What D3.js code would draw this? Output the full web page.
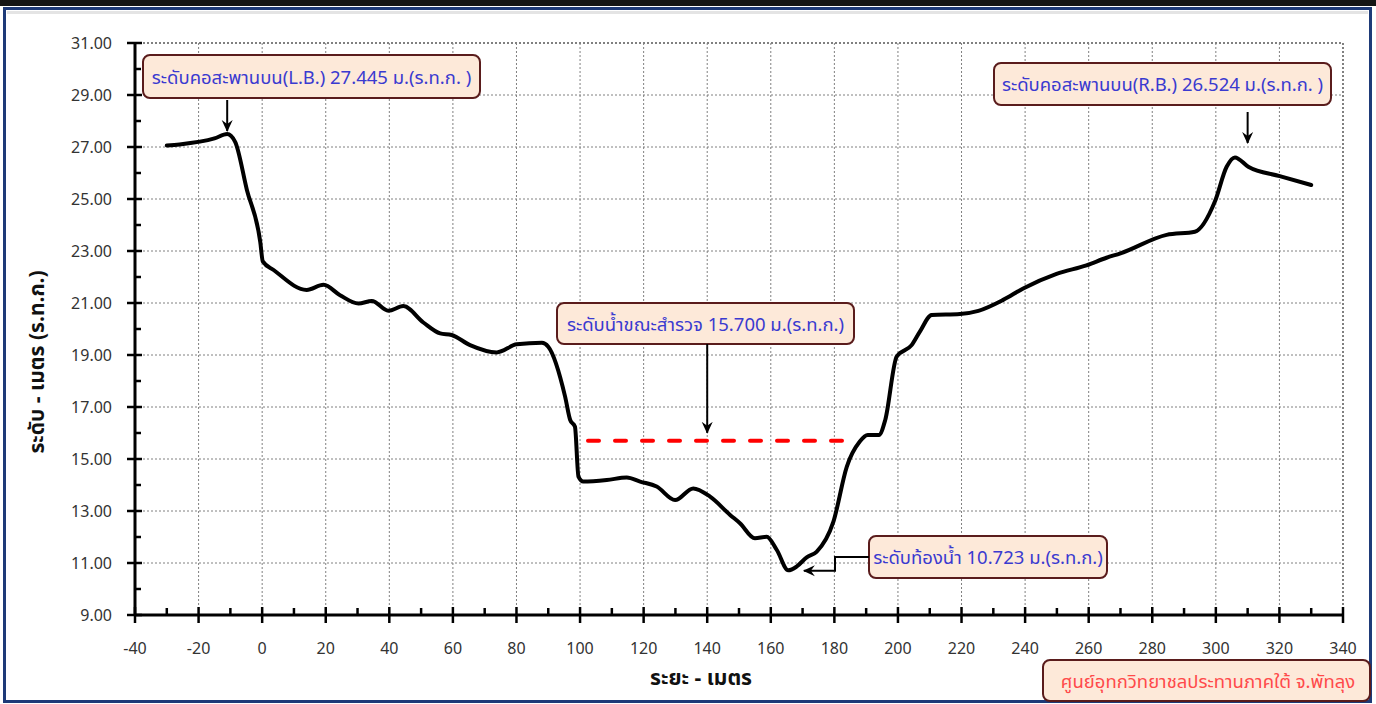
<!DOCTYPE html>
<html>
<head>
<meta charset="utf-8">
<script src="https://cdn.jsdelivr.net/npm/d3@7"></script>
<style>
    body { margin: 0; background: #fff; }
    svg { display: block; }
    .tick-label { font-family: Tahoma, 'Noto Sans', sans-serif; font-size: 16px; fill: #333; }
    .axis-title { font-family: Tahoma, 'Noto Sans Thai', 'Noto Sans', sans-serif; font-size: 21px; font-weight: bold; fill: #111; }
    .note { font-family: Tahoma, 'Noto Sans Thai', 'Noto Sans', sans-serif; font-size: 18.5px; }
</style>
</head>
<body>
<svg id="chart" width="1376" height="704"></svg>
<script>
    'use strict';

    // cross-section survey: distance (m) vs. ground level (m, MSL)
    var distance = [-30, -26, -15, -11, -8.5, -4.8, -0.6, 0.2, 3.6, 14, 19.3, 24.5,
        30.3, 34.5, 39.7, 44.4, 50.7, 56, 59.6, 65.4, 73.8, 80.1, 88, 90,
        95.3, 96.9, 98.4, 99.5, 101, 108.4, 114.7, 118.9, 124.1, 129.9, 135.6, 140.9,
        147.2, 150.3, 155, 158.7, 161.9, 165.5, 168.1, 171.3, 174.4, 179.7, 183.9, 188,
        190.5, 194, 196, 199.6, 204.3, 206.9, 210.6, 219.5, 225.3, 233.1, 239.4, 249.9,
        259.3, 265.6, 270, 284.5, 293.4, 299.7, 303.4, 306, 310.2, 320.1, 330];
    var elevation = [27.06, 27.1, 27.33, 27.5, 27.2, 25.35, 23.35, 22.6, 22.27, 21.5, 21.7, 21.3,
        20.98, 21.08, 20.7, 20.88, 20.25, 19.83, 19.77, 19.38, 19.1, 19.41, 19.47, 19.32,
        17.4, 16.5, 16.24, 14.32, 14.13, 14.19, 14.29, 14.13, 13.94, 13.42, 13.87, 13.55,
        12.85, 12.53, 11.95, 12.01, 11.5, 10.72, 10.86, 11.22, 11.43, 12.59, 14.7, 15.67,
        15.92, 15.92, 16.5, 18.94, 19.38, 19.9, 20.54, 20.58, 20.7, 21.12, 21.56, 22.12,
        22.45, 22.74, 22.91, 23.62, 23.74, 24.9, 26.24, 26.6, 26.24, 25.88, 25.54];

    var waterLevel = 15.7;
    var waterExtent = [102.5, 183];

    var xTicks = d3.range(-40, 341, 20);
    var yTicks = d3.range(9, 31.01, 2);

    var notes = [
        'ระดับคอสะพานบน(L.B.) 27.445 ม.(ร.ท.ก. )',
        'ระดับคอสะพานบน(R.B.) 26.524 ม.(ร.ท.ก. )',
        'ระดับน้ำขณะสำรวจ 15.700 ม.(ร.ท.ก.)',
        'ระดับท้องน้ำ 10.723 ม.(ร.ท.ก.)'
    ];
    var credit = 'ศูนย์อุทกวิทยาชลประทานภาคใต้ จ.พัทลุง';

    var svg = d3.select('#chart');

    var x = d3.scaleLinear().domain([-40, 340]).range([135, 1343]),
        y = d3.scaleLinear().domain([9, 31]).range([615, 43]);

    /******************************************************************
        outer frame
     ******************************************************************/
    svg.append('rect')
        .attr('x', 0).attr('y', 0).attr('width', 1376).attr('height', 6)
        .attr('fill', '#151515');
    svg.append('rect')
        .attr('x', 4.5).attr('y', 8.5).attr('width', 1366).attr('height', 693)
        .attr('fill', '#fff')
        .attr('stroke', '#1e3a78')
        .attr('stroke-width', 3);
    svg.append('rect')
        .attr('x', 7).attr('y', 11).attr('width', 1361).attr('height', 3)
        .attr('fill', '#e4e4e4');

    /******************************************************************
        grid
     ******************************************************************/
    var grid = svg.append('g').attr('class', 'grid');

    grid.selectAll('line.v')
        .data(xTicks.filter(function(d) { return d > -40; }))
        .enter().append('line')
            .attr('x1', function(d) { return x(d); })
            .attr('x2', function(d) { return x(d); })
            .attr('y1', y(31)).attr('y2', y(9))
            .attr('stroke', '#808080')
            .attr('stroke-width', function(d) { return d === 340 ? 2 : 1; })
            .attr('stroke-dasharray', '2,2');

    grid.selectAll('line.h')
        .data(yTicks.filter(function(d) { return d > 9; }))
        .enter().append('line')
            .attr('x1', x(-40)).attr('x2', x(340))
            .attr('y1', function(d) { return y(d); })
            .attr('y2', function(d) { return y(d); })
            .attr('stroke', '#808080')
            .attr('stroke-width', function(d) { return d === 31 ? 2 : 1; })
            .attr('stroke-dasharray', '2,2');

    /******************************************************************
        axes
     ******************************************************************/
    var axes = svg.append('g').attr('stroke', '#000');

    axes.append('line')
        .attr('x1', x(-40)).attr('x2', x(-40))
        .attr('y1', y(31)).attr('y2', y(9) + 1)
        .attr('stroke-width', 3);
    axes.append('line')
        .attr('x1', x(-40) - 1).attr('x2', x(340) + 1)
        .attr('y1', y(9)).attr('y2', y(9))
        .attr('stroke-width', 3);

    axes.selectAll('line.ymaj')
        .data(yTicks)
        .enter().append('line')
            .attr('x1', x(-40) - 8).attr('x2', x(-40) + 7)
            .attr('y1', function(d) { return y(d); })
            .attr('y2', function(d) { return y(d); })
            .attr('stroke-width', 2.5);
    axes.selectAll('line.ymin')
        .data(yTicks.slice(1).map(function(d) { return d - 1; }))
        .enter().append('line')
            .attr('x1', x(-40)).attr('x2', x(-40) + 6)
            .attr('y1', function(d) { return y(d); })
            .attr('y2', function(d) { return y(d); })
            .attr('stroke-width', 2.5);

    axes.selectAll('line.xmaj')
        .data(xTicks)
        .enter().append('line')
            .attr('x1', function(d) { return x(d); })
            .attr('x2', function(d) { return x(d); })
            .attr('y1', y(9) - 8).attr('y2', y(9) + 8)
            .attr('stroke-width', 2.5);
    axes.selectAll('line.xmin')
        .data(xTicks.slice(1).map(function(d) { return d - 10; }))
        .enter().append('line')
            .attr('x1', function(d) { return x(d); })
            .attr('x2', function(d) { return x(d); })
            .attr('y1', y(9) - 7).attr('y2', y(9))
            .attr('stroke-width', 2.5);

    svg.selectAll('text.ylab')
        .data(yTicks)
        .enter().append('text')
            .attr('class', 'tick-label')
            .attr('x', 112)
            .attr('y', function(d) { return y(d) + 6; })
            .attr('text-anchor', 'end')
            .text(d3.format('.2f'));

    svg.selectAll('text.xlab')
        .data(xTicks)
        .enter().append('text')
            .attr('class', 'tick-label')
            .attr('x', function(d) { return x(d); })
            .attr('y', 654)
            .attr('text-anchor', 'middle')
            .text(function(d) { return d; });

    svg.append('text')
        .attr('class', 'axis-title')
        .attr('x', 701).attr('y', 685)
        .attr('text-anchor', 'middle')
        .text('ระยะ - เมตร');

    svg.append('text')
        .attr('class', 'axis-title')
        .attr('transform', 'translate(44,362) rotate(-90)')
        .attr('text-anchor', 'middle')
        .text('ระดับ - เมตร (ร.ท.ก.)');

    /******************************************************************
        water level and ground profile
     ******************************************************************/
    svg.append('line')
        .attr('x1', x(waterExtent[0])).attr('x2', x(waterExtent[1]))
        .attr('y1', y(waterLevel)).attr('y2', y(waterLevel))
        .attr('stroke', '#ff0000')
        .attr('stroke-width', 4)
        .attr('stroke-linecap', 'round')
        .attr('stroke-dasharray', '11,16');

    var profile = distance.map(function(d, i) { return [d, elevation[i]]; });

    svg.append('path')
        .datum(profile)
        .attr('fill', 'none')
        .attr('stroke', '#000')
        .attr('stroke-width', 4)
        .attr('stroke-linejoin', 'round')
        .attr('stroke-linecap', 'round')
        .attr('d', d3.line()
            .x(function(d) { return x(d[0]); })
            .y(function(d) { return y(d[1]); })
            .curve(d3.curveMonotoneX));

    /******************************************************************
        call-outs
     ******************************************************************/
    svg.append('defs').append('marker')
        .attr('id', 'head')
        .attr('viewBox', '0 0 12 12')
        .attr('refX', 11).attr('refY', 6)
        .attr('markerWidth', 12).attr('markerHeight', 12)
        .attr('markerUnits', 'userSpaceOnUse')
        .attr('orient', 'auto')
        .append('path')
            .attr('d', 'M0 0.5 L12 6 L0 11.5 L4 6 Z')
            .attr('fill', '#000');

    function box(b) {
        var g = svg.append('g');
        g.append('rect')
            .attr('x', b[0]).attr('y', b[1])
            .attr('width', b[2]).attr('height', b[3])
            .attr('rx', 7)
            .attr('fill', '#fde9d9')
            .attr('stroke', '#5a1c1c')
            .attr('stroke-width', 2);
        return g;
    }

    var layout = [
        [143, 55, 337, 43],
        [994, 63, 337, 42],
        [557, 303, 297, 41],
        [869, 536, 238, 42]
    ];

    notes.forEach(function(n, i) {
        var b = layout[i];
        box(b).append('text')
            .attr('class', 'note')
            .attr('x', b[0] + b[2] / 2)
            .attr('y', b[1] + b[3] / 2 + 7)
            .attr('text-anchor', 'middle')
            .attr('fill', '#3a3ad0')
            .text(n);
    });

    var arrows = svg.append('g')
        .attr('fill', 'none')
        .attr('stroke', '#000')
        .attr('stroke-width', 2);

    arrows.append('path')
        .attr('d', 'M' + x(-11) + ' 100 V131')
        .attr('marker-end', 'url(#head)');
    arrows.append('path')
        .attr('d', 'M' + x(310) + ' 112 V143')
        .attr('marker-end', 'url(#head)');
    arrows.append('path')
        .attr('d', 'M' + x(140) + ' 344 V' + (y(waterLevel) - 8))
        .attr('marker-end', 'url(#head)');
    arrows.append('path')
        .attr('d', 'M869 557 H835 V' + y(10.7) + ' H' + (x(166) + 14))
        .attr('marker-end', 'url(#head)');

    box([1043, 660, 327, 41]).append('text')
        .attr('class', 'note')
        .attr('x', 1208).attr('y', 688)
        .attr('text-anchor', 'middle')
        .attr('fill', '#ff4a4a')
        .text(credit);
</script>
</body>
</html>
